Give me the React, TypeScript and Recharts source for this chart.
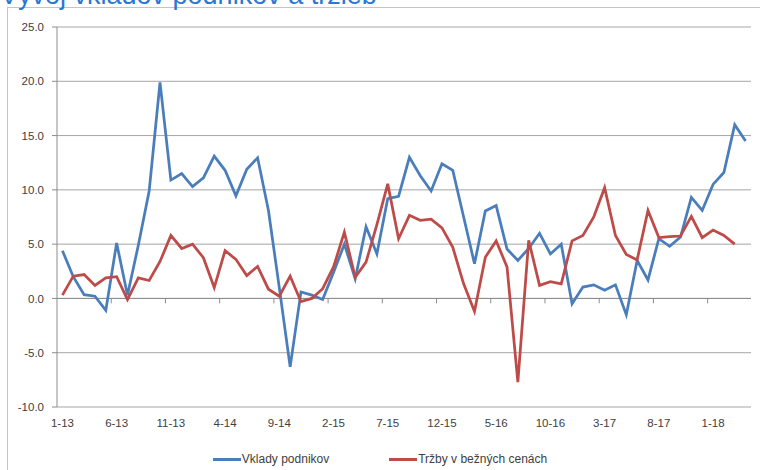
import { LineChart, Line, XAxis, YAxis, CartesianGrid, Legend, ReferenceLine } from 'recharts';

// mesiace 1/2013 - 4/2018
const months = [
  '1-13', '2-13', '3-13', '4-13', '5-13', '6-13', '7-13', '8-13', '9-13', '10-13', '11-13', '12-13',
  '1-14', '2-14', '3-14', '4-14', '5-14', '6-14', '7-14', '8-14', '9-14', '10-14', '11-14', '12-14',
  '1-15', '2-15', '3-15', '4-15', '5-15', '6-15', '7-15', '8-15', '9-15', '10-15', '11-15', '12-15',
  '1-16', '2-16', '3-16', '4-16', '5-16', '6-16', '7-16', '8-16', '9-16', '10-16', '11-16', '12-16',
  '1-17', '2-17', '3-17', '4-17', '5-17', '6-17', '7-17', '8-17', '9-17', '10-17', '11-17', '12-17',
  '1-18', '2-18', '3-18', '4-18',
];

// medzirocne zmeny v %
const vklady = [
  4.4, 2.0, 0.35, 0.2, -1.1, 5.1, 0.3, 4.9, 9.9, 19.9, 10.9, 11.5,
  10.3, 11.1, 13.1, 11.8, 9.45, 11.9, 12.95, 8.1, 1.0, -6.3, 0.6, 0.3,
  -0.1, 2.4, 5.0, 1.8, 6.6, 4.1, 9.2, 9.4, 13.0, 11.3, 9.9, 12.4,
  11.8, 7.5, 3.2, 8.05, 8.55, 4.55, 3.5, 4.6, 6.0, 4.1, 5.0, -0.5,
  1.05, 1.25, 0.75, 1.25, -1.5, 3.5, 1.7, 5.5, 4.8, 5.65, 9.3, 8.1,
  10.5, 11.6, 16.0, 14.5,
];

const trzby = [
  0.3, 2.05, 2.2, 1.2, 1.9, 2.0, -0.1, 1.9, 1.65, 3.4, 5.8, 4.6,
  5.0, 3.75, 1.0, 4.4, 3.6, 2.1, 2.95, 0.85, 0.2, 2.05, -0.3, 0.0,
  0.9, 2.9, 6.1, 1.95, 3.35, 6.8, 10.55, 5.5, 7.65, 7.2, 7.3, 6.5,
  4.7, 1.35, -1.2, 3.8, 5.3, 2.9, -7.7, 5.35, 1.2, 1.55, 1.35, 5.3,
  5.8, 7.5, 10.2, 5.8, 4.05, 3.55, 8.1, 5.6, 5.7, 5.75, 7.55, 5.6,
  6.3, 5.8, 5.0,
];

const seriesNames = ['Vklady podnikov', 'Tržby v bežných cenách'];
const yTicks = [-10, -5, 0, 5, 10, 15, 20, 25];
// hranice kategorii s oznacenim (kazdy 5. mesiac)
const edgeTicks = [5, 10, 15, 20, 25, 30, 35, 40, 45, 50, 55, 60];

const data = months.map((m, i) => ({
  month: m,
  pos: i + 0.5,
  vklady: vklady[i],
  trzby: i < trzby.length ? trzby[i] : null,
}));

const FONT = '"Liberation Sans", Arial, sans-serif';
const AXIS_GRAY = '#8c8c8c';
const HALF_STEP = 694 / months.length / 2;

function LegendRow(props: any) {
  const items = [...(props.payload || [])].sort(
    (a: any, b: any) => seriesNames.indexOf(a.value) - seriesNames.indexOf(b.value)
  );
  return (
    <div style={{ display: 'flex', justifyContent: 'center', gap: 60, fontFamily: FONT, fontSize: 12, color: '#404040', lineHeight: '18px' }}>
      {items.map((it: any) => (
        <div key={it.value} style={{ display: 'flex', alignItems: 'center' }}>
          <span style={{ display: 'inline-block', width: 28, height: 0, borderTop: `3px solid ${it.color}`, marginRight: 1 }} />
          <span>{it.value}</span>
        </div>
      ))}
    </div>
  );
}

export default function App() {
  return (
    <div style={{ position: 'absolute', left: 0, top: 0, width: 760, height: 470, overflow: 'hidden', background: '#fff' }}>
      <div style={{ position: 'absolute', left: 7, top: 7, width: 800, height: 520, border: '1px solid #c4c4c4' }} />
      <div style={{ position: 'absolute', left: 0, top: -17, fontFamily: FONT, fontSize: 27, lineHeight: '24px', color: '#2a78d4', whiteSpace: 'nowrap' }}>
        Vývoj vkladov podnikov a tržieb
      </div>
      <div style={{ position: 'absolute', left: 0, top: 0 }}>
        <LineChart width={760} height={470} data={data} margin={{ top: 27, right: 9, bottom: 33, left: 0 }}>
          <CartesianGrid vertical={false} stroke="#a6a6a6" />
          <XAxis
            dataKey="month"
            interval={4}
            padding={{ left: HALF_STEP, right: HALF_STEP }}
            axisLine={false}
            tickLine={false}
            tickSize={6}
            tickMargin={6}
            height={30}
            tick={{ fill: '#404040', fontSize: 11.5, fontFamily: FONT }}
          />
          <XAxis xAxisId="edge" dataKey="pos" type="number" domain={[0, 64]} allowDataOverflow hide />
          <YAxis
            domain={[-10, 25]}
            ticks={yTicks}
            interval={0}
            width={57}
            tickSize={5}
            tickMargin={8}
            tickFormatter={(v: number) => v.toFixed(1)}
            axisLine={{ stroke: AXIS_GRAY }}
            tickLine={{ stroke: AXIS_GRAY }}
            tick={{ fill: '#404040', fontSize: 11.5, fontFamily: FONT }}
          />
          <ReferenceLine y={0} stroke={AXIS_GRAY} />
          {edgeTicks.map((t) => (
            <ReferenceLine
              key={t}
              xAxisId="edge"
              segment={[{ x: t, y: 0 }, { x: t, y: -0.45 }]}
              stroke={AXIS_GRAY}
            />
          ))}
          <Line
            type="linear"
            dataKey="vklady"
            name={seriesNames[0]}
            stroke="#4a7ebb"
            strokeWidth={2.75}
            dot={false}
            isAnimationActive={false}
          />
          <Line
            type="linear"
            dataKey="trzby"
            name={seriesNames[1]}
            stroke="#be4b48"
            strokeWidth={2.75}
            dot={false}
            isAnimationActive={false}
          />
          <Legend
            layout="horizontal"
            verticalAlign="middle"
            align="center"
            wrapperStyle={{ top: 450, left: 0, width: 760 }}
            content={LegendRow}
          />
        </LineChart>
      </div>
    </div>
  );
}
